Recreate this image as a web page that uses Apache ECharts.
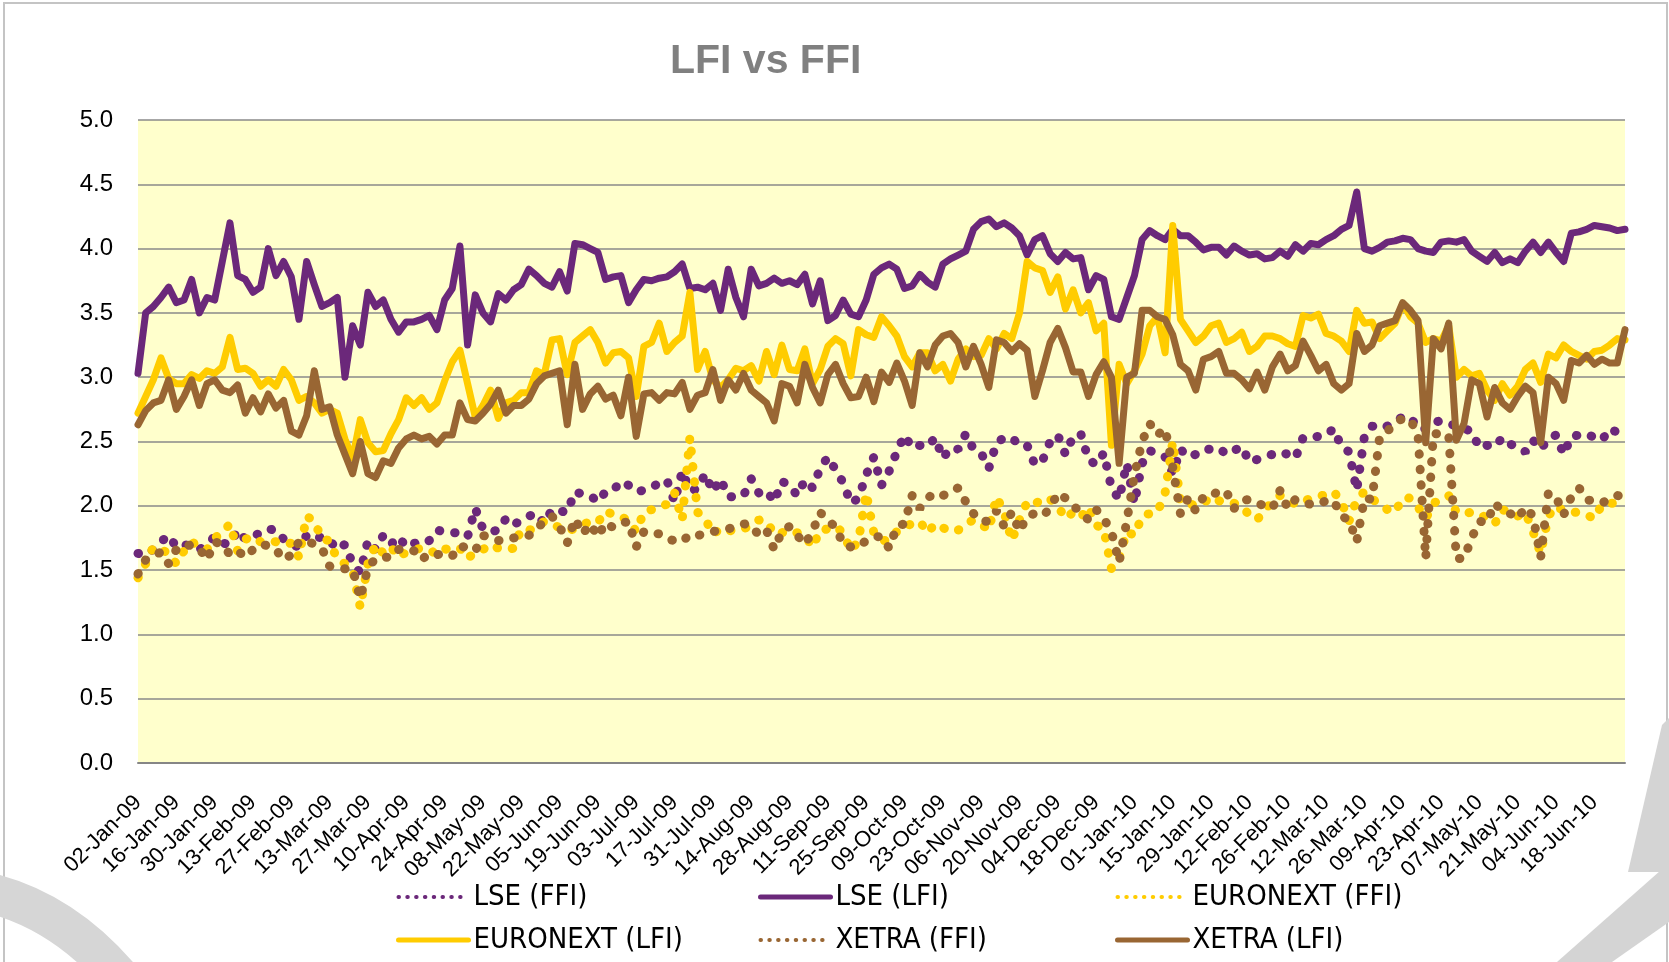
<!DOCTYPE html>
<html>
<head>
<meta charset="utf-8">
<title>LFI vs FFI</title>
<script src="https://cdn.jsdelivr.net/npm/echarts@6/dist/echarts.min.js"></script>
<style>
  html, body { margin: 0; padding: 0; background: #fff; }
  #chart { width: 1669px; height: 962px; }
</style>
</head>
<body>
<div id="chart"></div>
<script>
// one value every second trading day, starting Fri 02-Jan-09
const startDate = new Date(2009, 0, 2);
const yTicks = [0, 0.5, 1, 1.5, 2, 2.5, 3, 3.5, 4, 4.5, 5];
const seriesNames = ["LSE (FFI)", "LSE (LFI)", "EURONEXT (FFI)", "EURONEXT (LFI)", "XETRA (FFI)", "XETRA (LFI)"];

const lseFfi = [
  1.63, 1.62, 1.66, 1.72, 1.77, 1.68, 1.70, 1.68, 1.66, 1.70, 1.76, 1.71, 1.70, 1.81, 1.74, 1.75, 1.80, 1.82, 1.81, 1.74,
  1.70, 1.68, 1.77, 1.74, 1.76, 1.73, 1.66, 1.70, 1.55, 1.48, 1.73, 1.66, 1.77, 1.70, 1.76, 1.68, 1.71, 1.70, 1.73, 1.81,
  1.80, 1.79, 1.79, 1.76, 1.98, 1.82, 1.80, 1.81, 1.90, 1.85, 1.89, 1.92, 1.94, 1.86, 1.97, 1.96, 1.95, 2.11, 2.09, 2.08,
  2.03, 2.11, 2.12, 2.19, 2.16, 2.11, 2.12, 2.14, 2.18, 2.20, 2.03, 2.27, 2.12, 2.13, 2.25, 2.11, 2.21, 2.07, 2.07,
  2.08, 2.21, 2.10, 2.12, 2.03, 2.19, 2.16, 2.08, 2.20, 2.14, 2.29, 2.38, 2.28, 2.18, 2.02, 2.06, 2.24, 2.38, 2.16, 2.27,
  2.42, 2.55, 2.45, 2.47, 2.46, 2.53, 2.37, 2.45, 2.44, 2.56, 2.44, 2.41, 2.29, 2.49, 2.53, 2.53, 2.47, 2.47, 2.32,
  2.35, 2.50, 2.55, 2.40, 2.54, 2.56, 2.36, 2.32, 2.41, 2.14, 2.05, 2.33, 2.02, 2.33, 2.43, 2.40, 2.38, 2.25, 2.44, 2.38,
  2.40, 2.44, 2.44, 2.45, 2.40, 2.43, 2.46, 2.34, 2.36, 2.38, 2.40, 2.42, 2.40, 2.37, 2.53, 2.53, 2.54, 2.55, 2.60,
  2.46, 2.42, 2.12, 2.54, 2.62, 2.60, 2.62, 2.66, 2.69, 2.69, 2.60, 2.60, 2.65, 2.66, 2.64, 2.62, 2.60, 2.58, 2.45, 2.47,
  2.46, 2.53, 2.48, 2.46, 2.42, 2.51, 2.44, 2.52, 2.55, 2.40, 2.54, 2.55, 2.56, 2.53, 2.51, 2.60, 2.57, 2.54
];

const lseLfi = [
  3.03, 3.50, 3.55, 3.62, 3.70, 3.58, 3.60, 3.76, 3.50, 3.62, 3.60, 3.90, 4.20, 3.79, 3.76, 3.66, 3.70, 4.00, 3.79, 3.90,
  3.78, 3.45, 3.90, 3.72, 3.55, 3.58, 3.62, 3.00, 3.40, 3.25, 3.66, 3.55, 3.60, 3.45, 3.35, 3.43, 3.43, 3.45, 3.48, 3.37,
  3.60, 3.69, 4.02, 3.25, 3.64, 3.50, 3.43, 3.65, 3.60, 3.68, 3.72, 3.84, 3.79, 3.73, 3.70, 3.82, 3.67, 4.04, 4.03, 4.00,
  3.97, 3.76, 3.78, 3.79, 3.58, 3.68, 3.76, 3.75, 3.77, 3.78, 3.82, 3.88, 3.69, 3.70, 3.68, 3.73, 3.52, 3.84, 3.62,
  3.47, 3.84, 3.71, 3.73, 3.77, 3.73, 3.75, 3.72, 3.80, 3.57, 3.75, 3.44, 3.48, 3.60, 3.49, 3.47, 3.60, 3.80, 3.85, 3.88,
  3.84, 3.69, 3.71, 3.80, 3.74, 3.70, 3.88, 3.92, 3.95, 3.98, 4.15, 4.21, 4.23, 4.17, 4.20, 4.16, 4.10, 3.95, 4.07,
  4.10, 3.96, 3.90, 3.97, 3.92, 3.93, 3.68, 3.79, 3.76, 3.47, 3.45, 3.62, 3.79, 4.07, 4.14, 4.10, 4.07, 4.15, 4.10, 4.10,
  4.05, 3.99, 4.01, 4.01, 3.95, 4.02, 3.98, 3.95, 3.96, 3.92, 3.93, 3.98, 3.94, 4.03, 3.98, 4.04, 4.03, 4.07, 4.10,
  4.15, 4.18, 4.44, 4.00, 3.98, 4.01, 4.05, 4.06, 4.08, 4.07, 4.00, 3.98, 3.97, 4.05, 4.06, 4.05, 4.07, 3.98, 3.94, 3.90,
  3.97, 3.89, 3.92, 3.89, 3.98, 4.05, 3.97, 4.05, 3.97, 3.90, 4.12, 4.13, 4.15, 4.18, 4.17, 4.16, 4.14, 4.15
];

const euroFfi = [
  1.44, 1.55, 1.68, 1.66, 1.63, 1.55, 1.65, 1.72, 1.68, 1.66, 1.75, 1.79, 1.86, 1.65, 1.74, 1.76, 1.72, 1.73, 1.72, 1.70,
  1.71, 1.60, 1.92, 1.88, 1.74, 1.73, 1.58, 1.55, 1.50, 1.21, 1.55, 1.70, 1.63, 1.68, 1.60, 1.64, 1.66, 1.67, 1.66, 1.62,
  1.66, 1.68, 1.67, 1.59, 1.64, 1.66, 1.70, 1.67, 1.66, 1.67, 1.82, 1.81, 1.83, 1.88, 1.86, 1.83, 1.81, 1.82, 1.85, 1.88,
  1.87, 1.96, 1.93, 1.92, 1.88, 1.80, 1.95, 1.97, 2.00, 2.01, 2.10, 1.89, 2.53, 1.95, 1.90, 1.78, 1.82, 1.80, 1.82,
  1.82, 1.85, 1.89, 1.88, 1.78, 1.79, 1.81, 1.79, 1.77, 1.68, 1.81, 1.82, 1.84, 1.79, 1.65, 1.73, 2.10, 1.79, 1.73, 1.73,
  1.80, 1.84, 1.86, 1.88, 1.79, 1.86, 1.83, 1.80, 1.81, 1.86, 1.89, 1.86, 1.81, 2.07, 1.95, 1.73, 1.89, 2.03, 2.01,
  2.06, 2.05, 2.00, 1.90, 1.95, 1.91, 1.99, 1.85, 1.82, 1.51, 1.59, 1.80, 1.77, 1.92, 1.94, 1.95, 2.10, 2.50, 2.03, 2.02,
  2.00, 2.02, 2.07, 2.04, 2.02, 2.02, 1.99, 1.93, 1.89, 1.97, 2.03, 2.08, 2.05, 2.01, 2.03, 2.06, 2.07, 2.09, 2.11,
  2.03, 1.88, 2.05, 2.11, 2.05, 2.02, 1.97, 1.95, 2.06, 2.06, 1.99, 1.90, 2.02, 2.05, 2.08, 1.95, 1.94, 1.95, 1.94, 1.90,
  1.86, 1.97, 1.95, 1.92, 1.95, 1.80, 1.63, 1.92, 2.00, 1.96, 1.95, 1.95, 1.93, 1.90, 2.01, 2.02, 2.02, 2.01
];

const euroLfi = [
  2.72, 2.85, 2.98, 3.15, 2.99, 2.95, 2.95, 3.02, 2.99, 3.05, 3.03, 3.08, 3.31, 3.06, 3.07, 3.03, 2.93, 2.98, 2.93, 3.06,
  2.98, 2.82, 2.85, 2.80, 2.72, 2.75, 2.72, 2.52, 2.37, 2.67, 2.49, 2.42, 2.43, 2.56, 2.67, 2.84, 2.78, 2.84, 2.75, 2.80,
  2.97, 3.12, 3.21, 2.95, 2.69, 2.78, 2.90, 2.68, 2.80, 2.82, 2.88, 2.88, 3.05, 3.02, 3.29, 3.30, 3.02, 3.27, 3.32, 3.37,
  3.27, 3.11, 3.19, 3.20, 3.15, 2.85, 3.24, 3.27, 3.42, 3.20, 3.27, 3.32, 3.66, 3.06, 3.20, 2.98, 2.92, 2.98, 3.07,
  3.05, 3.09, 2.97, 3.20, 3.02, 3.25, 3.06, 3.05, 3.22, 2.95, 3.06, 3.24, 3.30, 3.26, 3.01, 3.37, 3.33, 3.31, 3.47, 3.40,
  3.32, 3.16, 3.08, 3.19, 3.19, 3.05, 3.10, 2.97, 3.14, 3.22, 3.16, 3.17, 3.30, 3.22, 3.34, 3.30, 3.50, 3.90, 3.85,
  3.83, 3.66, 3.78, 3.53, 3.68, 3.50, 3.58, 3.36, 3.42, 2.47, 3.10, 2.95, 3.05, 3.18, 3.40, 3.47, 3.19, 4.18, 3.45, 3.36,
  3.27, 3.32, 3.40, 3.42, 3.27, 3.30, 3.35, 3.20, 3.24, 3.32, 3.32, 3.30, 3.26, 3.24, 3.48, 3.46, 3.49, 3.34, 3.32,
  3.28, 3.20, 3.52, 3.42, 3.43, 3.30, 3.36, 3.42, 3.57, 3.47, 3.42, 3.27, 3.30, 3.28, 3.40, 3.00, 3.06, 3.01, 3.03, 2.90,
  2.82, 2.95, 2.86, 2.93, 3.06, 3.11, 2.96, 3.18, 3.15, 3.25, 3.20, 3.17, 3.14, 3.20, 3.21, 3.25, 3.30, 3.29
];

const xetraFfi = [
  1.47, 1.58, 1.61, 1.64, 1.55, 1.66, 1.70, 1.69, 1.67, 1.58, 1.72, 1.70, 1.62, 1.65, 1.60, 1.66, 1.70, 1.69, 1.66, 1.58,
  1.62, 1.72, 1.73, 1.70, 1.67, 1.53, 1.52, 1.51, 1.51, 1.28, 1.52, 1.59, 1.60, 1.60, 1.66, 1.67, 1.65, 1.58, 1.63, 1.62,
  1.63, 1.61, 1.69, 1.67, 1.65, 1.77, 1.75, 1.73, 1.73, 1.75, 1.76, 1.77, 1.82, 1.88, 1.92, 1.84, 1.71, 1.90, 1.78, 1.86,
  1.76, 1.87, 1.83, 1.86, 1.88, 1.68, 1.80, 1.80, 1.78, 1.74, 1.73, 1.72, 1.78, 1.77, 1.78, 1.80, 1.81, 1.82, 1.84,
  1.86, 1.85, 1.77, 1.81, 1.66, 1.80, 1.84, 1.77, 1.70, 1.80, 1.95, 1.88, 1.84, 1.70, 1.68, 1.68, 1.73, 1.76, 1.76, 1.67,
  1.84, 1.86, 2.08, 1.98, 2.06, 2.10, 2.08, 2.10, 2.14, 2.03, 1.94, 1.88, 1.88, 1.96, 1.84, 1.95, 1.80, 1.92, 1.94,
  1.92, 1.98, 2.10, 2.06, 2.00, 1.95, 1.89, 1.97, 1.90, 1.80, 1.56, 1.88, 2.24, 2.50, 2.64, 2.55, 2.60, 2.30, 1.94, 2.06,
  1.96, 2.07, 2.07, 2.12, 2.11, 1.98, 2.04, 2.05, 2.02, 2.00, 1.98, 2.12, 1.98, 2.05, 2.03, 2.01, 2.01, 2.04, 2.04,
  1.92, 1.89, 1.72, 2.06, 2.05, 2.54, 2.58, 2.64, 2.68, 2.67, 2.55, 1.59, 2.56, 2.56, 2.55, 1.59, 1.59, 1.75, 1.88, 1.87,
  2.02, 1.96, 1.94, 1.90, 1.99, 1.92, 1.60, 2.10, 2.07, 1.93, 2.07, 2.14, 2.05, 2.03, 2.02, 2.06, 2.08, 2.07
];

const xetraLfi = [
  2.63, 2.74, 2.80, 2.82, 2.98, 2.75, 2.85, 2.98, 2.78, 2.95, 2.98, 2.90, 2.88, 2.94, 2.72, 2.84, 2.73, 2.87, 2.76, 2.82,
  2.58, 2.55, 2.70, 3.05, 2.75, 2.77, 2.55, 2.40, 2.25, 2.50, 2.25, 2.22, 2.35, 2.33, 2.45, 2.52, 2.55, 2.52, 2.54, 2.48,
  2.55, 2.55, 2.80, 2.67, 2.66, 2.72, 2.79, 2.90, 2.72, 2.78, 2.78, 2.83, 2.95, 3.01, 3.03, 3.05, 2.63, 3.10, 2.75, 2.87,
  2.93, 2.83, 2.86, 2.70, 3.00, 2.54, 2.87, 2.88, 2.82, 2.88, 2.87, 2.96, 2.75, 2.86, 2.88, 3.06, 2.82, 2.98, 2.90,
  3.03, 2.90, 2.85, 2.80, 2.66, 2.95, 2.93, 2.80, 3.10, 2.92, 2.80, 3.02, 3.10, 2.95, 2.84, 2.85, 3.00, 2.81, 3.04, 2.96,
  3.11, 2.97, 2.78, 3.19, 3.08, 3.25, 3.32, 3.34, 3.27, 3.08, 3.24, 3.10, 2.92, 3.29, 3.27, 3.20, 3.26, 3.21, 2.85,
  3.05, 3.27, 3.38, 3.23, 3.04, 3.04, 2.85, 3.02, 3.12, 3.00, 2.33, 3.00, 3.03, 3.52, 3.52, 3.47, 3.45, 3.33, 3.10, 3.05,
  2.90, 3.14, 3.16, 3.20, 3.03, 3.03, 2.98, 2.91, 3.04, 2.90, 3.08, 3.18, 3.05, 3.09, 3.28, 3.17, 3.05, 3.10, 2.95,
  2.90, 2.95, 3.34, 3.20, 3.25, 3.40, 3.42, 3.44, 3.58, 3.52, 3.44, 2.49, 3.30, 3.22, 3.42, 2.51, 2.64, 2.98, 2.95, 2.69,
  2.92, 2.80, 2.75, 2.85, 2.93, 2.88, 2.49, 3.00, 2.95, 2.82, 3.13, 3.11, 3.17, 3.10, 3.14, 3.11, 3.11, 3.37
];

const MONTHS = ["Jan", "Feb", "Mar", "Apr", "May", "Jun", "Jul", "Aug", "Sep", "Oct", "Nov", "Dec"];
function fmtDate(d) {
  const dd = String(d.getDate()).padStart(2, "0");
  const yy = String(d.getFullYear() % 100).padStart(2, "0");
  return dd + "-" + MONTHS[d.getMonth()] + "-" + yy;
}

// category labels: every other weekday
const dates = [];
let cur = new Date(startDate);
let tradingDay = 0;
while (dates.length < lseLfi.length) {
  const wd = cur.getDay();
  if (wd !== 0 && wd !== 6) {
    if (tradingDay % 2 === 0) dates.push(fmtDate(cur));
    tradingDay++;
  }
  cur.setDate(cur.getDate() + 1);
}

const PURPLE = "#6B287A";
const YELLOW = "#FFCC00";
const BROWN = "#996633";
const FONT = "'Liberation Sans', Arial, sans-serif";
const NARROW = "'Liberation Sans Narrow', 'Arial Narrow', 'DejaVu Sans Condensed', sans-serif";

const dotted = (color) => ({ color: color, width: 9, type: [0.5, 15], cap: "round" });
const solid = (color) => ({ color: color, width: 7, cap: "round", join: "round" });

function makeSeries(name, data, color, lineStyle) {
  return {
    name: name,
    type: "line",
    data: data,
    symbol: "none",
    smooth: false,
    color: color,
    itemStyle: { color: color },
    lineStyle: lineStyle,
    emphasis: { disabled: true },
  };
}

// the legend icon of a line series also draws a circle; make it invisible
const legendItem = (name, color, isDotted) => ({
  name: name,
  itemStyle: { color: "rgba(0,0,0,0)", borderWidth: 0, opacity: 0 },
  lineStyle: isDotted
    ? { color: color, width: 4, type: [0.5, 8.3], cap: "round", opacity: 1 }
    : { color: color, width: 5, type: "solid", opacity: 1 },
});

function makeLegend(left, items) {
  return {
    orient: "vertical",
    left: left,
    top: 882,
    padding: 0,
    itemWidth: 70,
    itemHeight: 14,
    itemGap: 13,
    textStyle: { fontSize: 29, lineHeight: 30, color: "#000", fontFamily: NARROW },
    data: items,
  };
}

const chart = echarts.init(document.getElementById("chart"), null, { renderer: "canvas" });

chart.setOption({
  animation: false,
  backgroundColor: "#ffffff",
  title: {
    text: "LFI vs FFI",
    left: 665,
    top: 36,
    textStyle: { fontSize: 41, fontWeight: "bold", color: "#808080", fontFamily: FONT },
  },
  graphic: [
    {
      type: "rect",
      z: -10,
      silent: true,
      shape: { x: 4, y: 3, width: 1663, height: 965 },
      style: { fill: "none", stroke: "#c4c4c4", lineWidth: 2 },
    },
    {
      type: "bezierCurve",
      z: -9,
      silent: true,
      shape: { x1: -10, y1: 893, cpx1: 65, cpy1: 912, x2: 122, y2: 980 },
      style: { fill: "none", stroke: "#d6d6d6", lineWidth: 40 },
    },
    {
      type: "polygon",
      z: -9,
      silent: true,
      shape: { points: [[1557, 962], [1669, 863], [1669, 922], [1612, 962]] },
      style: { fill: "#d4d4d4" },
    },
    {
      type: "polygon",
      z: -9,
      silent: true,
      shape: { points: [[1662, 725], [1669, 718], [1669, 872], [1628, 872]] },
      style: { fill: "#d4d4d4" },
    },
  ],
  legend: [
    makeLegend(396, [legendItem(seriesNames[0], PURPLE, true), legendItem(seriesNames[3], YELLOW, false)]),
    makeLegend(758, [legendItem(seriesNames[1], PURPLE, false), legendItem(seriesNames[4], BROWN, true)]),
    makeLegend(1115, [legendItem(seriesNames[2], YELLOW, true), legendItem(seriesNames[5], BROWN, false)]),
  ],
  grid: {
    left: 138,
    right: 44,
    top: 120,
    bottom: 199,
    show: true,
    backgroundColor: "#FFFFCC",
    borderWidth: 0,
  },
  xAxis: {
    type: "category",
    data: dates,
    boundaryGap: false,
    axisLine: { show: true, lineStyle: { color: "#868686", width: 2 } },
    axisTick: { show: false },
    axisLabel: {
      interval: 4,
      rotate: 45,
      margin: 36,
      fontSize: 22,
      color: "#000",
      fontFamily: FONT,
    },
    splitLine: { show: false },
  },
  yAxis: {
    type: "value",
    min: yTicks[0],
    max: yTicks[yTicks.length - 1],
    interval: 0.5,
    axisLine: { show: false },
    axisTick: { show: false },
    axisLabel: {
      margin: 25,
      fontSize: 24,
      color: "#000",
      fontFamily: FONT,
      formatter: (v) => v.toFixed(1),
    },
    splitLine: { show: true, lineStyle: { color: "#8a8a8a", width: 1.5 } },
  },
  series: [
    makeSeries(seriesNames[0], lseFfi, PURPLE, dotted(PURPLE)),
    makeSeries(seriesNames[1], lseLfi, PURPLE, solid(PURPLE)),
    makeSeries(seriesNames[2], euroFfi, YELLOW, dotted(YELLOW)),
    makeSeries(seriesNames[3], euroLfi, YELLOW, solid(YELLOW)),
    makeSeries(seriesNames[4], xetraFfi, BROWN, dotted(BROWN)),
    makeSeries(seriesNames[5], xetraLfi, BROWN, solid(BROWN)),
  ],
});
</script>
</body>
</html>
